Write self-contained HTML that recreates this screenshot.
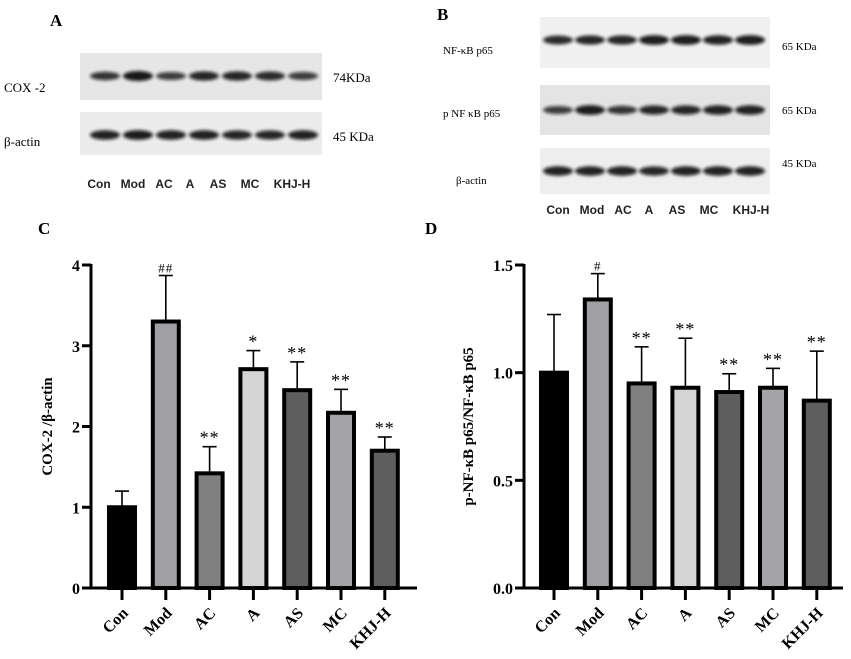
<!DOCTYPE html>
<html><head><meta charset="utf-8"><style>
body{margin:0;background:#fff;width:851px;height:659px;overflow:hidden;font-family:"Liberation Serif",serif}
svg{position:absolute;left:0;top:0}
</style></head><body>
<svg width="851" height="659" id="fig">
<defs>
<filter id="blur"><feGaussianBlur stdDeviation="1.6"/></filter>
</defs>
<g>
<text x="50" y="26" font-size="17" font-weight="bold">A</text>
<rect x="80" y="53" width="242" height="47" fill="#e6e6e6"/>
<rect x="80" y="112" width="242" height="43" fill="#ececec"/>
<text x="4" y="92" font-size="13">COX -2</text>
<text x="4" y="146" font-size="13">β-actin</text>
<text x="333" y="82" font-size="13">74KDa</text>
<text x="333" y="141" font-size="13">45 KDa</text>
<g id="bandsA" filter="url(#blur)"></g>
<g id="lanesA"></g>
</g>
<g>
<text x="437" y="20" font-size="17" font-weight="bold">B</text>
<rect x="540" y="17" width="230" height="51" fill="#f0f0f0"/>
<rect x="540" y="85" width="230" height="50" fill="#e4e4e4"/>
<rect x="540" y="148" width="230" height="46" fill="#eeeeee"/>
<text x="443" y="54" font-size="11">NF-κB p65</text>
<text x="443" y="117" font-size="11">p NF κB p65</text>
<text x="456" y="184" font-size="11">β-actin</text>
<text x="782" y="50" font-size="11">65 KDa</text>
<text x="782" y="114" font-size="11">65 KDa</text>
<text x="782" y="167" font-size="11">45 KDa</text>
<g id="bandsB" filter="url(#blur)"></g>
<g id="lanesB"></g>
</g>
<text x="38" y="234" font-size="17" font-weight="bold">C</text>
<text x="425" y="234" font-size="17" font-weight="bold">D</text>
<g id="chartC"></g>
<g id="chartD"></g>
</svg>
<script>
const categories=["Con","Mod","AC","A","AS","MC","KHJ-H"];
const coxValues=[1.0,3.3,1.42,2.71,2.45,2.17,1.7];
const coxErr=[0.2,0.57,0.33,0.23,0.35,0.29,0.17];
const coxSig=["","##","**","*","**","**","**"];
const coxTicks=[0,1,2,3,4];
const nfValues=[1.0,1.34,0.95,0.93,0.91,0.93,0.87];
const nfErr=[0.27,0.12,0.17,0.23,0.085,0.09,0.23];
const nfSig=["","#","**","**","**","**","**"];
const nfTicks=["0.0","0.5","1.0","1.5"];
const fills=["#000","#a0a0a4","#808080","#d4d4d4","#5e5e5e","#a4a4a8","#5e5e5e"];
const NS="http://www.w3.org/2000/svg";
function mk(p,t,a){const e=document.createElementNS(NS,t);for(const k in a)e.setAttribute(k,a[k]);p.appendChild(e);return e;}
function lanes(g,xs,y){categories.forEach((c,i)=>{const t=mk(g,'text',{x:xs[i],y:y,'font-size':12,'font-family':'Liberation Sans,sans-serif','font-weight':'bold',fill:'#222','text-anchor':'middle'});t.textContent=c;
});}
lanes(document.getElementById('lanesA'),[99,133,164,190,218,250,292],188);
lanes(document.getElementById('lanesB'),[558,592,623,649,677,709,751],214);
const bA=document.getElementById('bandsA');
[[76,[0.7,1,0.6,0.85,0.85,0.8,0.6]],[135,[0.9,0.95,0.9,0.9,0.85,0.85,0.9]]].forEach(([y,ts])=>ts.forEach((t,i)=>{
const b=mk(bA,'ellipse',{cx:105+i*33,cy:y,rx:15,ry:2.5+t*2.5,fill:'#111',opacity:0.55+0.4*t});
}));
const bB=document.getElementById('bandsB');
[[40,[0.8,0.85,0.85,0.95,0.95,0.9,0.95]],[110,[0.6,0.95,0.7,0.85,0.85,0.9,0.9]],[171,[0.9,0.9,0.9,0.85,0.9,0.9,0.9]]].forEach(([y,ts])=>ts.forEach((t,i)=>{
const b=mk(bB,'ellipse',{cx:558+i*32,cy:y,rx:15,ry:2.5+t*2.5,fill:'#111',opacity:0.55+0.4*t});
}));
function chart(g,cfg){
const y=v=>cfg.y0-(v/cfg.max)*(cfg.y0-cfg.ytop);
const x=i=>cfg.x0+i*cfg.step;
cfg.vals.forEach((v,i)=>{
const top=y(v+cfg.err[i]);
const e=mk(g,'line',{x1:x(i),x2:x(i),y1:top,y2:y(v),stroke:'#000','stroke-width':1.6});

mk(g,'line',{x1:x(i)-7,x2:x(i)+7,y1:top,y2:top,stroke:'#000','stroke-width':1.6});
const r=mk(g,'rect',{x:x(i)-13,y:y(v),width:26,height:cfg.y0-y(v),fill:fills[i],stroke:'#000','stroke-width':4});

if(cfg.sig[i]){const s=mk(g,'text',{x:x(i),y:top-3,'font-size':cfg.sig[i][0]=='#'?13:18,'text-anchor':'middle','letter-spacing':'1'});s.textContent=cfg.sig[i];
}
mk(g,'line',{x1:x(i),x2:x(i),y1:cfg.y0,y2:cfg.y0+12,stroke:'#000','stroke-width':3});
const lb=mk(g,'text',{x:x(i)+7,y:cfg.y0+26,'font-size':16,'font-weight':'bold','text-anchor':'end',transform:`rotate(-45 ${x(i)+7} ${cfg.y0+26})`});
lb.textContent=categories[i];
});
const ax=mk(g,'line',{x1:cfg.ax,x2:cfg.ax,y1:cfg.ytop-1,y2:cfg.y0+1.5,stroke:'#000','stroke-width':3});

const xa=mk(g,'line',{x1:cfg.ax-1.5,x2:cfg.xend,y1:cfg.y0,y2:cfg.y0,stroke:'#000','stroke-width':3});

cfg.ticks.forEach(t=>{const v=parseFloat(t);
mk(g,'line',{x1:cfg.ax-9,x2:cfg.ax,y1:y(v),y2:y(v),stroke:'#000','stroke-width':3});
const tl=mk(g,'text',{x:cfg.ax-11,y:y(v)+6,'font-size':16,'font-weight':'bold','text-anchor':'end'});tl.textContent=t;
});
const yt=mk(g,'text',{x:cfg.tx,y:(cfg.y0+cfg.ytop)/2,'font-size':15,'font-weight':'bold','text-anchor':'middle',transform:`rotate(-90 ${cfg.tx} ${(cfg.y0+cfg.ytop)/2})`});
yt.textContent=cfg.title;
}
chart(document.getElementById('chartC'),{vals:coxValues,err:coxErr,sig:coxSig,ticks:coxTicks.map(String),max:4,y0:588,ytop:265,x0:122,step:43.8,ax:91,xend:417,tx:52,title:"COX-2 /β-actin"});
chart(document.getElementById('chartD'),{vals:nfValues,err:nfErr,sig:nfSig,ticks:nfTicks,max:1.5,y0:588,ytop:265,x0:554,step:43.8,ax:524,xend:843,tx:473,title:"p-NF-κB p65/NF-κB p65"});
</script>
</body></html>
